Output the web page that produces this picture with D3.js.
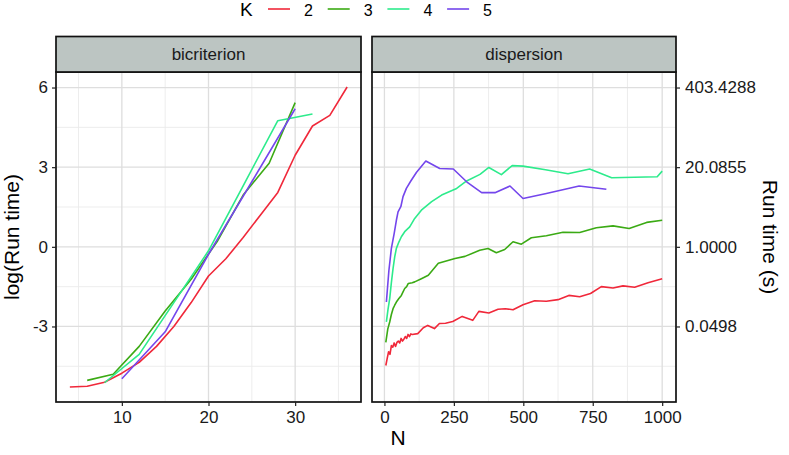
<!DOCTYPE html>
<html>
<head>
<meta charset="utf-8">
<script src="https://cdn.jsdelivr.net/npm/d3@7"></script>
<style>
  body { margin: 0; background: #fff; }
  svg text { font-family: "Liberation Sans", Arial, sans-serif; }
</style>
</head>
<body>
<svg id="chart" width="789" height="455"></svg>
<script>
// K values + colours
var kLevels = ['2', '3', '4', '5'];
var kColors = ['#F0283A', '#3BAA14', '#2DEB8C', '#7446EC'];

// bicriterion panel (N, log run time)
var bicN2 = [4, 6, 8, 10, 12, 14, 16, 18, 20, 22, 24, 26, 28, 30, 32, 34, 36];
var bicV2 = [-5.28, -5.25, -5.1, -4.76, -4.35, -3.75, -3.0, -2.1, -1.1, -0.45, 0.35, 1.2, 2.05, 3.45, 4.55, 4.95, 6.02];
var bicN3 = [6, 9, 12, 15, 18, 21, 24, 27, 30];
var bicV3 = [-5.03, -4.8, -3.75, -2.42, -1.22, 0.2, 1.95, 3.15, 5.43];
var bicN4 = [8, 12, 16, 20, 24, 28, 32];
var bicV4 = [-5.12, -4.05, -2.1, -0.15, 2.3, 4.75, 5.0];
var bicN5 = [10, 15, 20, 25, 30];
var bicV5 = [-4.97, -3.2, -0.28, 2.45, 5.2];

// dispersion panel
var disN2 = [5, 10, 15, 20, 25, 30, 35, 40, 45, 50, 55, 60, 65, 70, 75, 80, 85, 90, 95, 100, 120, 140, 156, 180, 198, 220, 246, 280, 318, 340, 376, 409, 435, 463, 499, 541, 583, 625, 664, 703, 742, 781, 823, 859, 901, 949, 1000];
var disV2 = [-4.47, -4.2, -3.95, -4.05, -3.72, -3.78, -3.62, -3.75, -3.6, -3.55, -3.62, -3.45, -3.55, -3.48, -3.38, -3.45, -3.3, -3.38, -3.28, -3.3, -3.27, -3.05, -2.96, -3.08, -2.89, -2.88, -2.81, -2.62, -2.77, -2.43, -2.49, -2.35, -2.33, -2.37, -2.18, -2.03, -2.05, -1.99, -1.83, -1.88, -1.76, -1.5, -1.55, -1.47, -1.52, -1.35, -1.2];
var disN3 = [5, 12, 19, 25, 31, 37, 43, 52, 61, 67, 73, 80, 86, 100, 109, 133, 158, 194, 254, 290, 343, 373, 403, 433, 463, 493, 529, 583, 643, 703, 763, 823, 881, 944, 1000];
var disV3 = [-3.6, -3.1, -2.83, -2.55, -2.33, -2.2, -2.08, -1.95, -1.83, -1.7, -1.57, -1.5, -1.38, -1.35, -1.32, -1.2, -1.07, -0.62, -0.44, -0.36, -0.13, -0.06, -0.22, -0.1, 0.19, 0.1, 0.34, 0.42, 0.55, 0.54, 0.72, 0.79, 0.69, 0.92, 1.0];
var disN4 = [7, 13, 19, 25, 31, 37, 43, 52, 61, 73, 91, 109, 133, 170, 206, 260, 296, 344, 376, 421, 460, 499, 580, 661, 739, 818, 900, 982, 1000];
var disV4 = [-2.83, -2.35, -1.95, -1.35, -0.82, -0.38, -0.06, 0.18, 0.38, 0.57, 0.75, 1.07, 1.38, 1.7, 1.95, 2.2, 2.48, 2.73, 2.99, 2.72, 3.06, 3.04, 2.9, 2.75, 2.93, 2.6, 2.62, 2.64, 2.85];
var disN5 = [7, 16, 25, 35, 43, 49, 59, 67, 79, 95, 115, 149, 199, 248, 296, 350, 398, 452, 499, 583, 701, 799];
var disV5 = [-2.08, -0.9, -0.06, 0.5, 1.0, 1.32, 1.51, 1.89, 2.2, 2.48, 2.8, 3.23, 2.95, 2.93, 2.45, 2.04, 2.04, 2.29, 1.82, 2.01, 2.29, 2.17];

var yTicks = [-3, 0, 3, 6];
var bicTicks = [10, 20, 30];
var disTicks = [0, 250, 500, 750, 1000];

function pairs(ns, vs) {
  return ns.map(function(n, i) { return {n: n, v: vs[i]}; });
}

var bicSeries = [pairs(bicN2, bicV2), pairs(bicN3, bicV3), pairs(bicN4, bicV4), pairs(bicN5, bicV5)];
var disSeries = [pairs(disN2, disV2), pairs(disN3, disV3), pairs(disN4, disV4), pairs(disN5, disV5)];

// ggplot-ish 5% expansion
function expand(ext) {
  var d = (ext[1] - ext[0]) * 0.05;
  return [ext[0] - d, ext[1] + d];
}

var svg = d3.select('#chart');
var panelTop = 72, panelBottom = 402;

var allV = bicV2.concat(bicV3, bicV4, bicV5, disV2, disV3, disV4, disV5);
var y = d3.scaleLinear().domain(expand(d3.extent(allV))).range([panelBottom, panelTop]);

var panels = [
  {name: 'bicriterion', x0: 56, x1: 361, series: bicSeries, ticks: bicTicks,
   ext: d3.extent(bicN2.concat(bicN3, bicN4, bicN5)), minorStep: 5},
  {name: 'dispersion', x0: 372, x1: 676, series: disSeries, ticks: disTicks,
   ext: d3.extent(disN2.concat(disN3, disN4, disN5)), minorStep: 125}
];

panels.forEach(function(p) {
  var x = d3.scaleLinear().domain(expand(p.ext)).range([p.x0, p.x1]);
  var g = svg.append('g');

  g.append('rect').attr('x', p.x0).attr('y', panelTop).attr('width', p.x1 - p.x0).attr('height', panelBottom - panelTop)
    .attr('fill', '#fff');

  // grid
  var dom = x.domain();
  var minorX = [];
  for (var m = Math.ceil(dom[0] / p.minorStep) * p.minorStep; m <= dom[1]; m += p.minorStep) {
    if (p.ticks.indexOf(m) < 0) minorX.push(m);
  }
  var minorY = [-4.5, -1.5, 1.5, 4.5];
  g.selectAll('.mx').data(minorX).enter().append('line')
    .attr('x1', function(d) { return x(d); }).attr('x2', function(d) { return x(d); })
    .attr('y1', panelTop).attr('y2', panelBottom).attr('stroke', '#EBEBEB').attr('stroke-width', 0.9);
  g.selectAll('.my').data(minorY).enter().append('line')
    .attr('y1', function(d) { return y(d); }).attr('y2', function(d) { return y(d); })
    .attr('x1', p.x0).attr('x2', p.x1).attr('stroke', '#EBEBEB').attr('stroke-width', 0.9);
  g.selectAll('.gx').data(p.ticks).enter().append('line')
    .attr('x1', function(d) { return x(d); }).attr('x2', function(d) { return x(d); })
    .attr('y1', panelTop).attr('y2', panelBottom).attr('stroke', '#DEDEDE').attr('stroke-width', 1.3);
  g.selectAll('.gy').data(yTicks).enter().append('line')
    .attr('y1', function(d) { return y(d); }).attr('y2', function(d) { return y(d); })
    .attr('x1', p.x0).attr('x2', p.x1).attr('stroke', '#DEDEDE').attr('stroke-width', 1.3);

  var line = d3.line().x(function(d) { return x(d.n); }).y(function(d) { return y(d.v); });
  g.selectAll('.series').data(p.series).enter().append('path')
    .attr('d', line)
    .attr('fill', 'none')
    .attr('stroke', function(d, i) { return kColors[i]; })
    .attr('stroke-width', 1.6)
    .attr('stroke-linejoin', 'round');

  g.append('rect').attr('x', p.x0).attr('y', panelTop).attr('width', p.x1 - p.x0).attr('height', panelBottom - panelTop)
    .attr('fill', 'none').attr('stroke', '#111').attr('stroke-width', 1.7);

  // strip
  g.append('rect').attr('x', p.x0).attr('y', 36.5).attr('width', p.x1 - p.x0).attr('height', panelTop - 36.5)
    .attr('fill', '#BCC5C2').attr('stroke', '#111').attr('stroke-width', 1.7);
  g.append('text').attr('x', (p.x0 + p.x1) / 2).attr('y', 60).attr('text-anchor', 'middle')
    .attr('font-size', 17).attr('fill', '#1a1a1a').text(p.name);

  // x axis
  var xa = g.append('g').attr('transform', 'translate(0,' + panelBottom + ')')
    .call(d3.axisBottom(x).tickValues(p.ticks).tickSize(4).tickPadding(5).tickFormat(d3.format('d')));
  xa.select('.domain').remove();
  xa.selectAll('line').attr('stroke', '#222').attr('stroke-width', 1.2);
  xa.selectAll('text').attr('font-size', 17).attr('fill', '#1a1a1a')
    .attr('font-family', '"Liberation Sans", Arial, sans-serif');
});

// left y axis (plain hyphen minus like the original)
var ly = svg.append('g').attr('transform', 'translate(56,0)')
  .call(d3.axisLeft(y).tickValues(yTicks).tickSize(4).tickPadding(4)
    .tickFormat(function(d) { return String(d); }));
ly.select('.domain').remove();
ly.selectAll('line').attr('stroke', '#222').attr('stroke-width', 1.2);
ly.selectAll('text').attr('font-size', 17).attr('fill', '#1a1a1a')
  .attr('font-family', '"Liberation Sans", Arial, sans-serif');

// right secondary axis, exp() of the log scale
var ry = svg.append('g').attr('transform', 'translate(676,0)')
  .call(d3.axisRight(y).tickValues(yTicks).tickSize(4).tickPadding(5)
    .tickFormat(function(d) { return Math.exp(d).toFixed(4); }));
ry.select('.domain').remove();
ry.selectAll('line').attr('stroke', '#222').attr('stroke-width', 1.2);
ry.selectAll('text').attr('font-size', 17).attr('fill', '#1a1a1a')
  .attr('font-family', '"Liberation Sans", Arial, sans-serif');

// axis titles
svg.append('text').attr('x', 398).attr('y', 445).attr('text-anchor', 'middle')
  .attr('font-size', 21).attr('fill', '#000').text('N');
svg.append('text').attr('transform', 'translate(19,237) rotate(-90)').attr('text-anchor', 'middle')
  .attr('font-size', 21).attr('fill', '#000').text('log(Run time)');
svg.append('text').attr('transform', 'translate(763,237) rotate(90)').attr('text-anchor', 'middle')
  .attr('font-size', 21).attr('fill', '#000').text('Run time (s)');

// legend
var leg = svg.append('g');
leg.append('text').attr('x', 240).attr('y', 16).attr('font-size', 19).attr('fill', '#000').text('K');
kLevels.forEach(function(k, i) {
  var lx = 268 + i * 59.7;
  leg.append('line').attr('x1', lx).attr('x2', lx + 22).attr('y1', 9).attr('y2', 9)
    .attr('stroke', kColors[i]).attr('stroke-width', 1.6);
  leg.append('text').attr('x', lx + 36).attr('y', 16).attr('font-size', 16).attr('fill', '#000').text(k);
});
</script>
</body>
</html>
